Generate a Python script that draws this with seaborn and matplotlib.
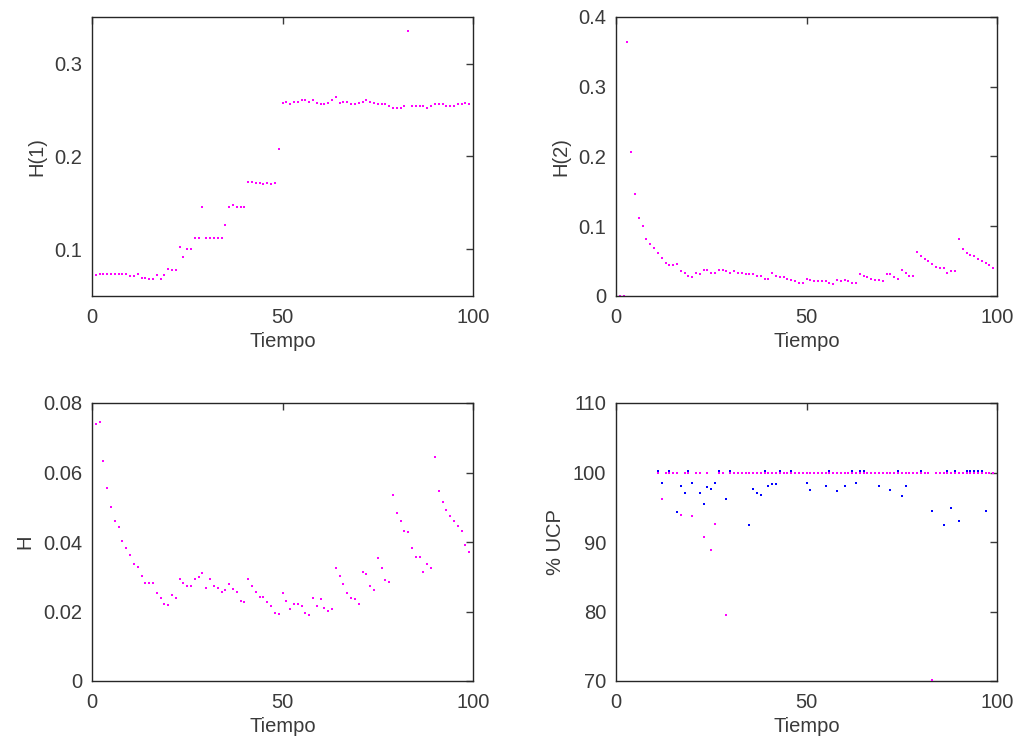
import numpy as np
import pandas as pd
import matplotlib
matplotlib.use("Agg")
import matplotlib.pyplot as plt
import seaborn as sns

# ---------------- data ----------------
t_h1 = list(range(1, 100))
h1 = [0.0729, 0.074, 0.074, 0.074, 0.074, 0.074, 0.074, 0.074, 0.074, 0.071,
      0.071, 0.074, 0.0693, 0.0693, 0.0678, 0.0678, 0.0729, 0.0678, 0.0729, 0.079,
      0.0776, 0.0776, 0.103, 0.0917, 0.101, 0.101, 0.112, 0.112, 0.146, 0.112,
      0.112, 0.112, 0.112, 0.112, 0.1268, 0.146, 0.1477, 0.146, 0.146, 0.146,
      0.173, 0.173, 0.171, 0.171, 0.170, 0.171, 0.170, 0.171, 0.208, 0.257,
      0.2587, 0.256, 0.2587, 0.2587, 0.2605, 0.2605, 0.2587, 0.2605, 0.257, 0.256,
      0.256, 0.257, 0.2605, 0.2638, 0.257, 0.2587, 0.2587, 0.256, 0.256, 0.257,
      0.2587, 0.2605, 0.2587, 0.257, 0.256, 0.256, 0.256, 0.254, 0.2526, 0.2526,
      0.2526, 0.254, 0.335, 0.254, 0.254, 0.254, 0.254, 0.2526, 0.254, 0.256,
      0.256, 0.256, 0.254, 0.254, 0.254, 0.256, 0.256, 0.257, 0.256]

t_h2 = list(range(1, 100))
h2 = [0.0, 0.0, 0.3645, 0.2066, 0.146, 0.1125, 0.100, 0.0813, 0.075, 0.069,
      0.061, 0.0543, 0.048, 0.044, 0.044, 0.0463, 0.036, 0.0336, 0.0293, 0.0274,
      0.0336, 0.0317, 0.0378, 0.0378, 0.0336, 0.0336, 0.0378, 0.0378, 0.036, 0.0336,
      0.036, 0.0336, 0.0336, 0.0317, 0.0317, 0.0317, 0.0293, 0.0293, 0.025, 0.025,
      0.0336, 0.0293, 0.0274, 0.0274, 0.025, 0.0231, 0.0213, 0.019, 0.019, 0.025,
      0.0231, 0.0213, 0.0213, 0.0213, 0.0213, 0.019, 0.017, 0.0231, 0.0213, 0.0231,
      0.0213, 0.019, 0.019, 0.0317, 0.0293, 0.0274, 0.025, 0.0231, 0.0231, 0.0213,
      0.0317, 0.0317, 0.0274, 0.025, 0.0378, 0.0336, 0.0293, 0.0293, 0.0629, 0.0567,
      0.0525, 0.0506, 0.0463, 0.042, 0.040, 0.040, 0.0336, 0.036, 0.036, 0.0813,
      0.067, 0.061, 0.0586, 0.0567, 0.0525, 0.0506, 0.048, 0.044, 0.040]

t_h = list(range(1, 100))
h = [0.0741, 0.0744, 0.0632, 0.0556, 0.0501, 0.0459, 0.0443, 0.0404, 0.0383, 0.0362,
     0.0336, 0.0329, 0.0303, 0.0282, 0.0282, 0.0282, 0.0252, 0.0239, 0.0223, 0.0218,
     0.0248, 0.0239, 0.0294, 0.0282, 0.0273, 0.0273, 0.0294, 0.0299, 0.0311, 0.0269,
     0.0294, 0.0273, 0.0269, 0.0257, 0.0261, 0.0278, 0.0264, 0.0257, 0.0231, 0.0227,
     0.0294, 0.0273, 0.0257, 0.0243, 0.0243, 0.0227, 0.0215, 0.0197, 0.0193, 0.0252,
     0.0231, 0.0206, 0.0223, 0.0223, 0.0215, 0.0197, 0.0189, 0.0239, 0.0215, 0.0236,
     0.021, 0.0202, 0.0206, 0.0324, 0.0303, 0.0278, 0.0252, 0.0239, 0.0236, 0.0223,
     0.0315, 0.0308, 0.0273, 0.0261, 0.0354, 0.0324, 0.029, 0.0285, 0.0535, 0.0484,
     0.0459, 0.0433, 0.0429, 0.0383, 0.0357, 0.0357, 0.0315, 0.0336, 0.0324, 0.0645,
     0.0547, 0.0514, 0.0492, 0.0476, 0.0459, 0.0446, 0.0433, 0.0391, 0.037]

t_ucp = list(range(11, 100))
ucp_magenta = [100, 96.2, 100, 100, 100, 100, 93.9, 100, 100, 93.7,
               100, 100, 90.7, 100, 88.8, 92.6, 100, 100, 79.5, 100,
               100, 100, 100, 100, 100, 100, 100, 100, 100, 100,
               100, 100, 100, 100, 100, 100, 100, 100, 100, 100,
               100, 100, 100, 100, 100, 100, 100, 100, 100, 100,
               100, 100, 100, 100, 100, 100, 100, 100, 100, 100,
               100, 100, 100, 100, 100, 100, 100, 100, 100, 100,
               100, 100, 70.2, 100, 100, 100, 100, 100, 100, 100,
               100, 100, 100, 100, 100, 100, 100, 100, 100]
ucp_blue = [100.15, 98.5, 100, 100.15, 100, 94.3, 98.1, 97.0, 100.15, 98.5,
            100, 97.0, 95.5, 97.9, 97.65, 98.5, 100.15, 100, 96.2, 100.15,
            100, 100, 100, 100, 92.4, 97.65, 97.0, 96.8, 100.15, 98.1,
            98.3, 98.3, 100.15, 100, 100, 100.15, 100, 100, 100, 98.5,
            97.45, 100, 100, 100, 98.1, 100.15, 100, 97.3, 100, 98.1,
            100, 100.15, 98.5, 100.15, 100.15, 100, 100, 100, 98.1, 100,
            100, 97.45, 100, 100.15, 96.6, 98.1, 100, 100, 100, 100.15,
            100, 100, 94.5, 100, 100, 92.4, 100.15, 94.9, 100.15, 93.0,
            100, 100.15, 100.15, 100.15, 100.15, 100.15, 94.5, 100, 100]

xticks = [0, 50, 100]
xticklabels = ["0", "50", "100"]
yt_h1 = [0.1, 0.2, 0.3]
yl_h1 = ["0.1", "0.2", "0.3"]
yt_h2 = [0, 0.1, 0.2, 0.3, 0.4]
yl_h2 = ["0", "0.1", "0.2", "0.3", "0.4"]
yt_h = [0, 0.02, 0.04, 0.06, 0.08]
yl_h = ["0", "0.02", "0.04", "0.06", "0.08"]
yt_ucp = [70, 80, 90, 100, 110]
yl_ucp = ["70", "80", "90", "100", "110"]

# ---------------- style ----------------
sns.set_style("white")
plt.rcParams["font.family"] = ["Liberation Sans", "DejaVu Sans"]
TXT = "#3a3a3a"

fig = plt.figure(figsize=(10.22, 7.45), dpi=100)
W, H = 1022, 745
def ax_at(l, r, t, b):
    return fig.add_axes([l / W, 1 - b / H, (r - l) / W, (b - t) / H])

ax1 = ax_at(92, 473, 17, 296)
ax2 = ax_at(616, 997, 17, 296)
ax3 = ax_at(92, 473, 403, 681)
ax4 = ax_at(616, 997, 403, 681)

MS = 2.2
def dots(ax, x, y, color, z=2):
    df = pd.DataFrame({"t": x, "v": y})
    sns.scatterplot(data=df, x="t", y="v", ax=ax, color=color, marker="s",
                    s=MS, linewidth=0, zorder=z, legend=False)

dots(ax1, t_h1, h1, "#ff00ff")
dots(ax2, t_h2, h2, "#ff00ff")
dots(ax3, t_h, h, "#ff00ff")
dots(ax4, t_ucp, ucp_blue, "#0000ff", z=2)
dots(ax4, t_ucp, ucp_magenta, "#ff00ff", z=3)

setup = [
    (ax1, (0.05, 0.35), yt_h1, yl_h1, "H(1)"),
    (ax2, (0, 0.4), yt_h2, yl_h2, "H(2)"),
    (ax3, (0, 0.08), yt_h, yl_h, "H"),
    (ax4, (70, 110), yt_ucp, yl_ucp, "% UCP"),
]
for ax, ylim, yt, yl, lab in setup:
    ax.set_xlim(0, 100)
    ax.set_ylim(*ylim)
    ax.set_xticks(xticks)
    ax.set_xticklabels(xticklabels)
    ax.set_yticks(yt)
    ax.set_yticklabels(yl)
    ax.tick_params(direction="in", length=5, width=1, top=True, right=True,
                   labelsize=14.5, colors=TXT)
    ax.tick_params(axis="x", pad=9)
    ax.tick_params(axis="y", pad=7)
    for s in ax.spines.values():
        s.set_visible(True)
        s.set_color("#262626")
        s.set_linewidth(1)
    ax.set_xlabel("Tiempo", fontsize=14.5, color=TXT, labelpad=3)
    ax.set_ylabel(lab, fontsize=14.5, color=TXT, labelpad=6)

fig.savefig("out.png", dpi=100, facecolor="white")
